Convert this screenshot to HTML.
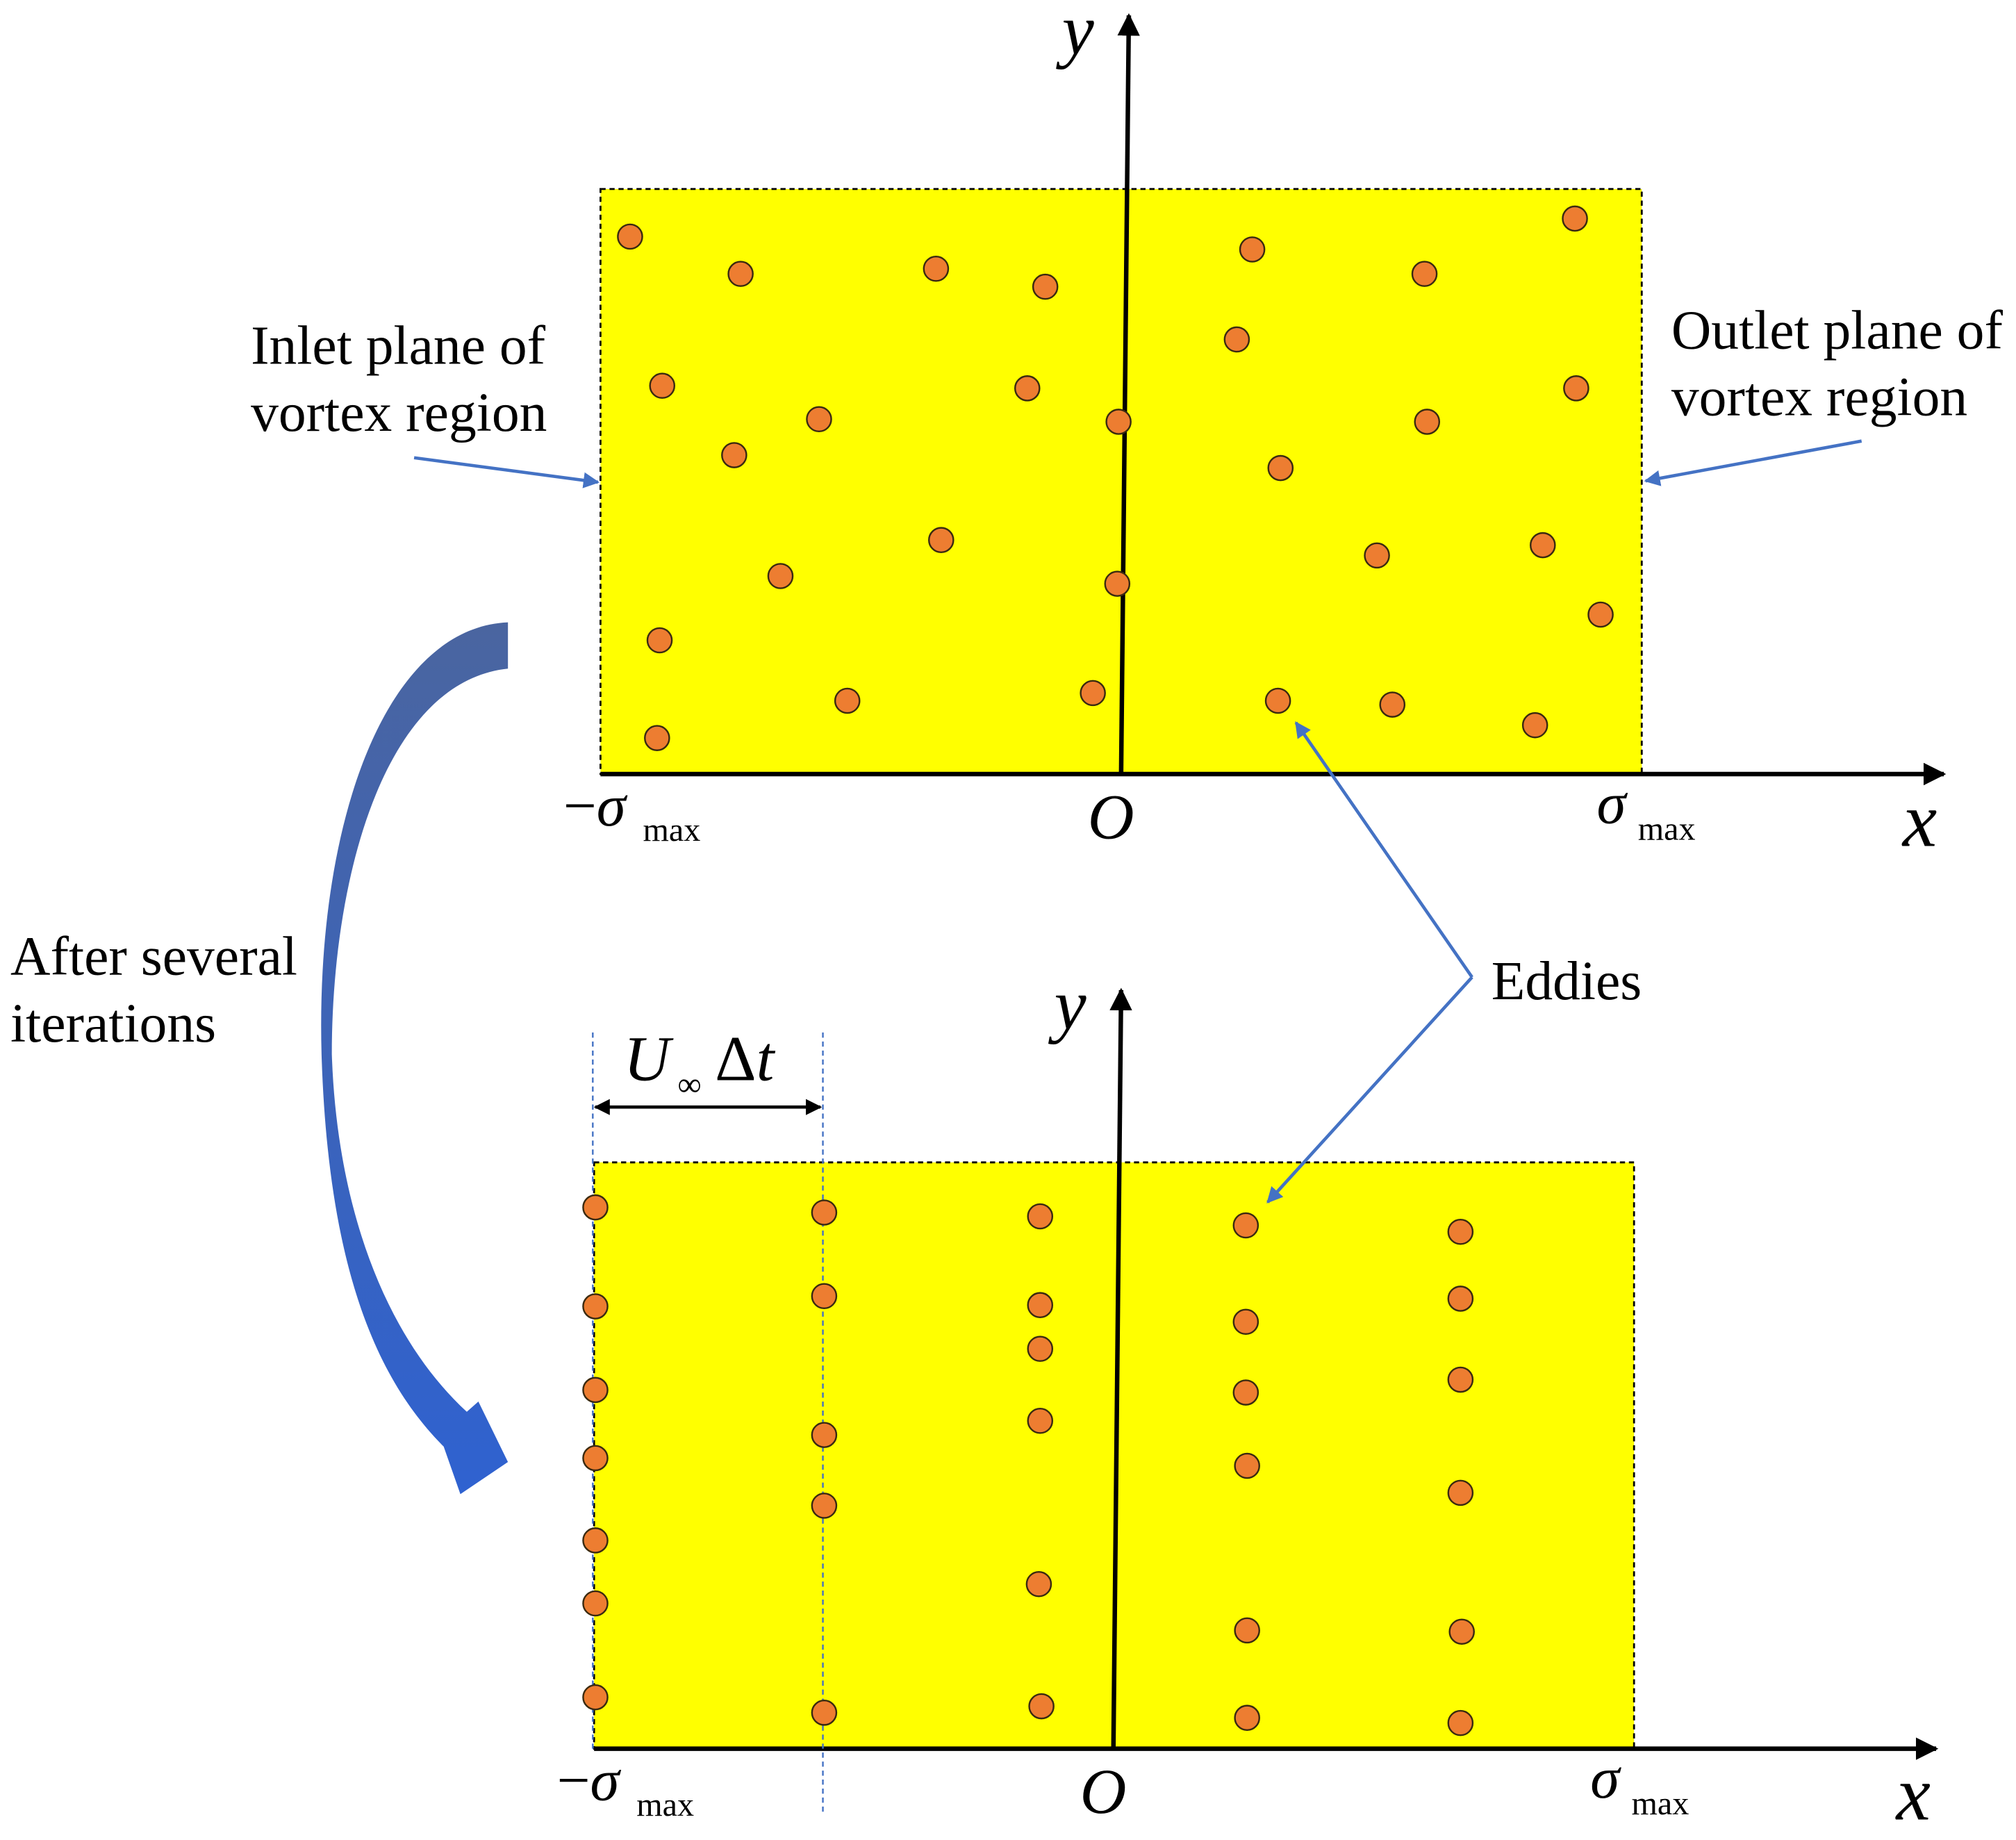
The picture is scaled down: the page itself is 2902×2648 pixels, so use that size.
<!DOCTYPE html>
<html><head><meta charset="utf-8"><style>html,body{margin:0;padding:0;background:#fff}svg{display:block}</style></head>
<body>
<svg width="2902" height="2648" viewBox="0 0 1568 1431" xmlns="http://www.w3.org/2000/svg" font-family="Liberation Serif, serif">
<defs>
<marker id="ab" viewBox="0 0 10 10" refX="9" refY="5" markerWidth="5" markerHeight="5" orient="auto-start-reverse"><path d="M0,0L10,5L0,10z" fill="#000"/></marker>
<marker id="ablue" viewBox="0 0 10 10" refX="9" refY="5" markerWidth="5" markerHeight="5" orient="auto"><path d="M0,0L10,5L0,10z" fill="#4472C4"/></marker>
<linearGradient id="g" x1="0" y1="0" x2="0" y2="1"><stop offset="0" stop-color="#4A65A0"/><stop offset="1" stop-color="#2F62D0"/></linearGradient>
</defs>
<rect width="1568" height="1431" fill="#fff"/>
<rect x="467" y="147" width="810" height="455" fill="#FFFF00" stroke="#000" stroke-width="1.5" stroke-dasharray="4,3"/>
<line x1="467" y1="602" x2="1512" y2="602" stroke="#000" stroke-width="3.5" marker-end="url(#ab)"/>
<line x1="872" y1="602" x2="878" y2="12" stroke="#000" stroke-width="3.5" marker-end="url(#ab)"/>
<g fill="#ED7D31" stroke="#3a2a10" stroke-width="1.3">
<circle cx="490" cy="184" r="9.5"/><circle cx="576" cy="213" r="9.5"/><circle cx="728" cy="209" r="9.5"/><circle cx="813" cy="223" r="9.5"/><circle cx="974" cy="194" r="9.5"/><circle cx="1108" cy="213" r="9.5"/><circle cx="1225" cy="170" r="9.5"/><circle cx="962" cy="264" r="9.5"/><circle cx="515" cy="300" r="9.5"/><circle cx="637" cy="326" r="9.5"/><circle cx="799" cy="302" r="9.5"/><circle cx="870" cy="328" r="9.5"/><circle cx="1110" cy="328" r="9.5"/><circle cx="1226" cy="302" r="9.5"/><circle cx="571" cy="354" r="9.5"/><circle cx="996" cy="364" r="9.5"/><circle cx="732" cy="420" r="9.5"/><circle cx="607" cy="448" r="9.5"/><circle cx="869" cy="454" r="9.5"/><circle cx="1071" cy="432" r="9.5"/><circle cx="1200" cy="424" r="9.5"/><circle cx="1245" cy="478" r="9.5"/><circle cx="513" cy="498" r="9.5"/><circle cx="659" cy="545" r="9.5"/><circle cx="850" cy="539" r="9.5"/><circle cx="994" cy="545" r="9.5"/><circle cx="1083" cy="548" r="9.5"/><circle cx="1194" cy="564" r="9.5"/><circle cx="511" cy="574" r="9.5"/>
</g>
<rect x="462" y="904" width="809" height="456" fill="#FFFF00" stroke="#000" stroke-width="1.5" stroke-dasharray="4,3"/>
<line x1="462" y1="1360" x2="1506" y2="1360" stroke="#000" stroke-width="3.5" marker-end="url(#ab)"/>
<line x1="866" y1="1360" x2="872" y2="770" stroke="#000" stroke-width="3.5" marker-end="url(#ab)"/>
<line x1="461" y1="803" x2="461" y2="1360" stroke="#4472C4" stroke-width="1.3" stroke-dasharray="4,3"/>
<line x1="640" y1="803" x2="640" y2="1410" stroke="#4472C4" stroke-width="1.3" stroke-dasharray="4,3"/>
<line x1="463" y1="861" x2="638" y2="861" stroke="#000" stroke-width="2.5" marker-start="url(#ab)" marker-end="url(#ab)"/>
<g fill="#ED7D31" stroke="#3a2a10" stroke-width="1.3">
<circle cx="463" cy="939" r="9.5"/><circle cx="463" cy="1016" r="9.5"/><circle cx="463" cy="1081" r="9.5"/><circle cx="463" cy="1134" r="9.5"/><circle cx="463" cy="1198" r="9.5"/><circle cx="463" cy="1247" r="9.5"/><circle cx="463" cy="1320" r="9.5"/>
<circle cx="641" cy="943" r="9.5"/><circle cx="641" cy="1008" r="9.5"/><circle cx="641" cy="1116" r="9.5"/><circle cx="641" cy="1171" r="9.5"/><circle cx="641" cy="1332" r="9.5"/>
<circle cx="809" cy="946" r="9.5"/><circle cx="809" cy="1015" r="9.5"/><circle cx="809" cy="1049" r="9.5"/><circle cx="809" cy="1105" r="9.5"/><circle cx="808" cy="1232" r="9.5"/><circle cx="810" cy="1327" r="9.5"/>
<circle cx="969" cy="953" r="9.5"/><circle cx="969" cy="1028" r="9.5"/><circle cx="969" cy="1083" r="9.5"/><circle cx="970" cy="1140" r="9.5"/><circle cx="970" cy="1268" r="9.5"/><circle cx="970" cy="1336" r="9.5"/>
<circle cx="1136" cy="958" r="9.5"/><circle cx="1136" cy="1010" r="9.5"/><circle cx="1136" cy="1073" r="9.5"/><circle cx="1136" cy="1161" r="9.5"/><circle cx="1137" cy="1269" r="9.5"/><circle cx="1136" cy="1340" r="9.5"/>
</g>
<g stroke="#4472C4" stroke-width="2.5" fill="none">
<line x1="322" y1="356" x2="465" y2="375" marker-end="url(#ablue)"/>
<line x1="1448" y1="343" x2="1280" y2="374" marker-end="url(#ablue)"/>
<path d="M1145,760 L1008,562" marker-end="url(#ablue)"/>
<path d="M1145,760 L986,935" marker-end="url(#ablue)"/>
</g>
<path d="M395,484 C300,488 245,640 250,820 C255,980 290,1070 345,1125 L358,1162 L395,1137 L372,1090 L363,1098 C300,1040 262,940 258,820 C258,680 300,530 395,520 Z" fill="url(#g)"/>
<g font-size="43" fill="#000">
<text x="195" y="283">Inlet plane of</text><text x="195" y="335">vortex region</text>
<text x="1300" y="271">Outlet plane of</text><text x="1300" y="323">vortex region</text>
<text x="8" y="758">After several</text><text x="8" y="810">iterations</text>
<text x="1160" y="777">Eddies</text>
</g>
<g fill="#000">
<text x="438" y="642" font-size="46">−<tspan font-style="italic">σ</tspan></text><text x="500" y="654" font-size="26">max</text>
<text x="846" y="652" font-size="50" font-style="italic">O</text>
<text x="1242" y="640" font-size="46" font-style="italic">σ</text><text x="1274" y="653" font-size="26">max</text>
<text x="1480" y="658" font-size="60" font-style="italic">x</text>
<text x="826" y="42" font-size="56" font-style="italic">y</text>
<text x="433" y="1400" font-size="46">−<tspan font-style="italic">σ</tspan></text><text x="495" y="1412" font-size="26">max</text>
<text x="840" y="1410" font-size="50" font-style="italic">O</text>
<text x="1237" y="1398" font-size="46" font-style="italic">σ</text><text x="1269" y="1411" font-size="26">max</text>
<text x="1475" y="1415" font-size="60" font-style="italic">x</text>
<text x="820" y="800" font-size="56" font-style="italic">y</text>
<text x="485" y="840" font-size="50" font-style="italic">U</text><text x="527" y="852" font-size="26">∞</text><text x="556" y="840" font-size="50">Δ<tspan font-style="italic">t</tspan></text>
</g>
</svg>
</body></html>
